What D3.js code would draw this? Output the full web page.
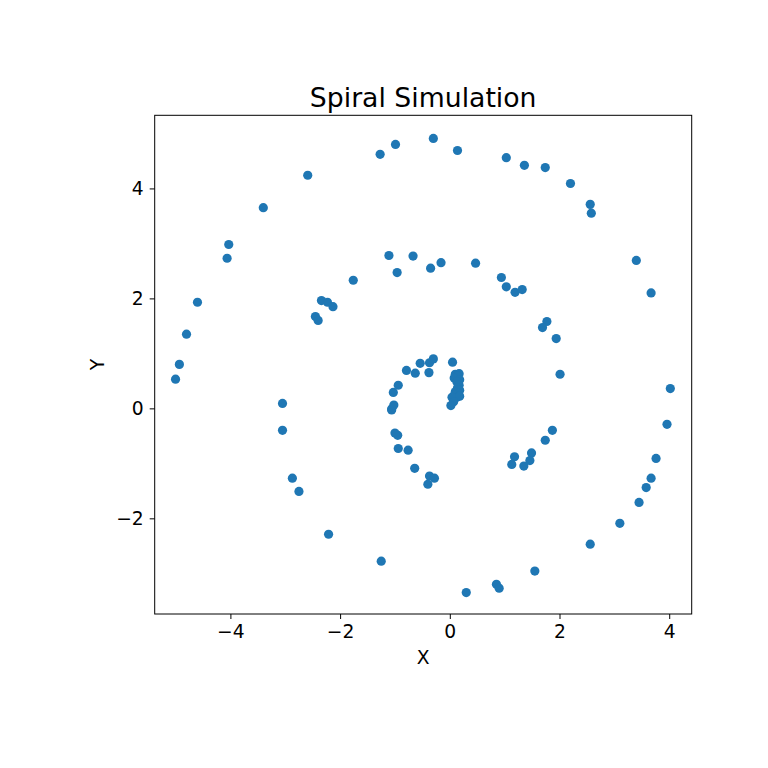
<!DOCTYPE html>
<html>
<head>
<meta charset="utf-8">
<script src="https://cdn.jsdelivr.net/npm/d3@7"></script>
<style>
  body { margin: 0; background: #fff; }
  text { font-family: "DejaVu Sans", sans-serif; fill: #000; }
</style>
</head>
<body>
<div id="chart"></div>
<script>
// spiral points
const xs = [
  -4.93, -4.80, -4.60, -4.06, -4.03, -3.40, -2.59, -1.27, -0.99, -0.30,
  0.14, 1.03, 1.36, 1.74, 2.20, 2.56, 2.58, 3.40, 3.67, 4.02,
  3.96, 3.76, 3.67, 3.58, 3.45, 3.10, 2.56, 1.55, 0.85, 0.90,
  0.30, -1.25, -2.21, -2.75, -2.87, -3.05, -3.05, -5.00,
  -1.76, -2.34, -2.23, -2.13, -2.45, -2.40, -1.11, -0.96, -0.67, -0.35,
  -0.16, 0.47, 0.94, 1.03, 1.19, 1.32, 1.77, 1.69, 1.94, 2.01,
  1.87, 1.74, 1.49, 1.46, 1.35, 1.18, 1.13, -0.37, -0.28, -0.40,
  -0.64, -0.76, -0.94, -0.95, -1.00, -1.06, -1.06, -1.02, -1.03, -0.94,
  -0.79, -0.63, -0.54, -0.38, -0.37, -0.30, 0.05,
  0.10, 0.17, 0.14, 0.08, 0.18, 0.13, 0.17, 0.14, 0.18, 0.10,
  0.16, 0.08, 0.13, 0.04, 0.18, 0.07, 0.02
];
const ys = [
  0.80, 1.35, 1.93, 2.73, 2.98, 3.65, 4.24, 4.62, 4.80, 4.91,
  4.69, 4.56, 4.42, 4.38, 4.09, 3.71, 3.55, 2.69, 2.10, 0.36,
  -0.29, -0.91, -1.27, -1.44, -1.71, -2.09, -2.47, -2.96, -3.20, -3.27,
  -3.35, -2.78, -2.29, -1.51, -1.27, 0.09, -0.40, 0.53,
  2.33, 1.96, 1.93, 1.85, 1.67, 1.60, 2.78, 2.47, 2.77, 2.55,
  2.65, 2.64, 2.38, 2.21, 2.11, 2.16, 1.58, 1.47, 1.27, 0.62,
  -0.40, -0.58, -0.81, -0.95, -1.05, -0.88, -1.02, -1.23, -1.27, -1.38,
  -1.09, -0.76, -0.73, -0.49, -0.45, -0.01, -0.03, 0.06, 0.29, 0.42,
  0.69, 0.64, 0.82, 0.65, 0.83, 0.90, 0.84,
  0.62, 0.63, 0.58, 0.55, 0.52, 0.48, 0.42, 0.37, 0.33, 0.30,
  0.27, 0.24, 0.20, 0.20, 0.22, 0.12, 0.05
];
const xTicks = [-4, -2, 0, 2, 4];
const yTicks = [-2, 0, 2, 4];

const width = 768, height = 768;
const box = { left: 154.7, right: 691.7, top: 115.3, bottom: 614 };

const svg = d3.select("#chart").append("svg")
  .attr("width", width)
  .attr("height", height);

const x = d3.scaleLinear().domain([-5.38, 4.41]).range([box.left, box.right]);
const y = d3.scaleLinear().domain([-3.74, 5.33]).range([box.bottom, box.top]);

const minus = d => d < 0 ? "\u2212" + Math.abs(d) : d;

// axes
const xAxis = svg.append("g")
  .attr("transform", "translate(0," + box.bottom + ")")
  .call(d3.axisBottom(x).tickValues(xTicks).tickSize(5).tickPadding(6).tickFormat(minus));
const yAxis = svg.append("g")
  .attr("transform", "translate(" + box.left + ",0)")
  .call(d3.axisLeft(y).tickValues(yTicks).tickSize(5).tickPadding(6).tickFormat(minus));

[xAxis, yAxis].forEach(function(g) {
  g.select(".domain").remove();
  g.selectAll(".tick line").attr("stroke", "#000").attr("stroke-width", 1);
  g.selectAll(".tick text")
    .style("font-family", "DejaVu Sans, sans-serif")
    .style("font-size", "18.7px")
    .attr("fill", "#000");
});

// points
svg.append("g")
  .selectAll("circle")
  .data(d3.range(xs.length))
  .enter()
  .append("circle")
  .attr("cx", i => x(xs[i]))
  .attr("cy", i => y(ys[i]))
  .attr("r", 4.6)
  .attr("fill", "#1f77b4");

// frame
svg.append("rect")
  .attr("x", box.left)
  .attr("y", box.top)
  .attr("width", box.right - box.left)
  .attr("height", box.bottom - box.top)
  .attr("fill", "none")
  .attr("stroke", "#000")
  .attr("stroke-width", 1);

svg.append("text")
  .attr("x", (box.left + box.right) / 2)
  .attr("y", 107)
  .attr("text-anchor", "middle")
  .style("font-size", "26.7px")
  .text("Spiral Simulation");

svg.append("text")
  .attr("x", (box.left + box.right) / 2)
  .attr("y", 664)
  .attr("text-anchor", "middle")
  .style("font-size", "18.7px")
  .text("X");

svg.append("text")
  .attr("transform", "translate(104," + (box.top + box.bottom) / 2 + ") rotate(-90)")
  .attr("text-anchor", "middle")
  .style("font-size", "18.7px")
  .text("Y");
</script>
</body>
</html>
